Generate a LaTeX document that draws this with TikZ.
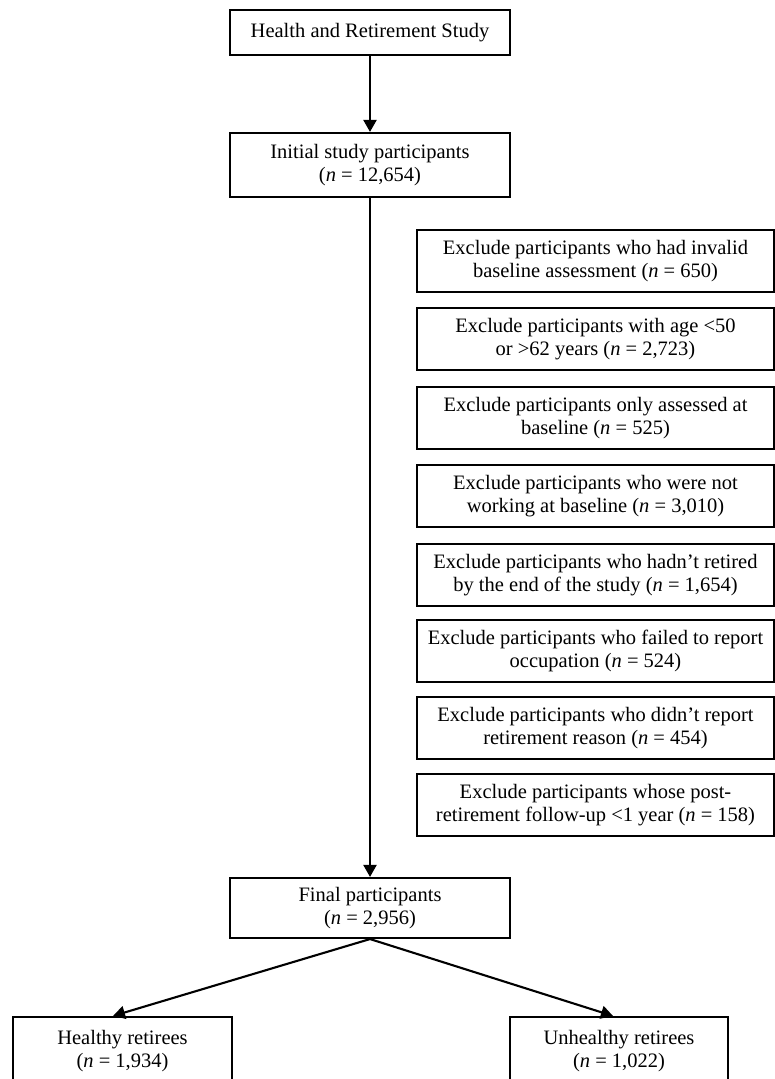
\documentclass[tikz,border=0pt]{standalone}
\usepackage{fontspec}
\setmainfont{Liberation Serif}
\usetikzlibrary{arrows.meta}
\begin{document}
\begin{tikzpicture}[x=1pt,y=-1pt,
  box/.style={draw, line width=2.1pt, align=center, inner sep=0pt,
    font=\fontsize{20.5}{23}\selectfont},
  mainbox/.style={box, minimum width=280pt},
  exbox/.style={box, minimum width=357pt, minimum height=62pt},
  arr/.style={line width=2.1pt, -{Triangle[length=12pt,width=13pt]}}
]
\useasboundingbox[fill=white] (0,0) rectangle (775,1079);
\node[mainbox, minimum height=45pt] (hrs) at (370,32.5) {Health and Retirement Study};
\node[mainbox, minimum height=64pt] (init) at (370,165) {Initial study participants\\(\textit{n} = 12,654)};
\node[exbox] (e1) at (595.5,261) {Exclude participants who had invalid\\baseline assessment (\textit{n} = 650)};
\node[exbox] (e2) at (595.5,339) {Exclude participants with age <50\\or >62 years (\textit{n} = 2,723)};
\node[exbox] (e3) at (595.5,418) {Exclude participants only assessed at\\baseline (\textit{n} = 525)};
\node[exbox] (e4) at (595.5,496) {Exclude participants who were not\\working at baseline (\textit{n} = 3,010)};
\node[exbox] (e5) at (595.5,575) {Exclude participants who hadn’t retired\\by the end of the study (\textit{n} = 1,654)};
\node[exbox] (e6) at (595.5,651) {Exclude participants who failed to report\\occupation (\textit{n} = 524)};
\node[exbox] (e7) at (595.5,728) {Exclude participants who didn’t report\\retirement reason (\textit{n} = 454)};
\node[exbox] (e8) at (595.5,805) {Exclude participants whose post-\\retirement follow-up <1 year (\textit{n} = 158)};
\node[mainbox, minimum height=60pt] (final) at (370,908) {Final participants\\(\textit{n} = 2,956)};
\node[box, minimum width=219pt, minimum height=69pt] (healthy) at (122.5,1051.5) {Healthy retirees\\(\textit{n} = 1,934)};
\node[box, minimum width=218pt, minimum height=69pt] (unhealthy) at (619,1051.5) {Unhealthy retirees\\(\textit{n} = 1,022)};
\draw[arr] (hrs) -- (init);
\draw[arr] (init) -- (final);
\draw[arr] (final.south) -- ([xshift=-9.5pt]healthy.north);
\draw[arr] (final.south) -- ([xshift=-6pt]unhealthy.north);
\end{tikzpicture}
\end{document}
